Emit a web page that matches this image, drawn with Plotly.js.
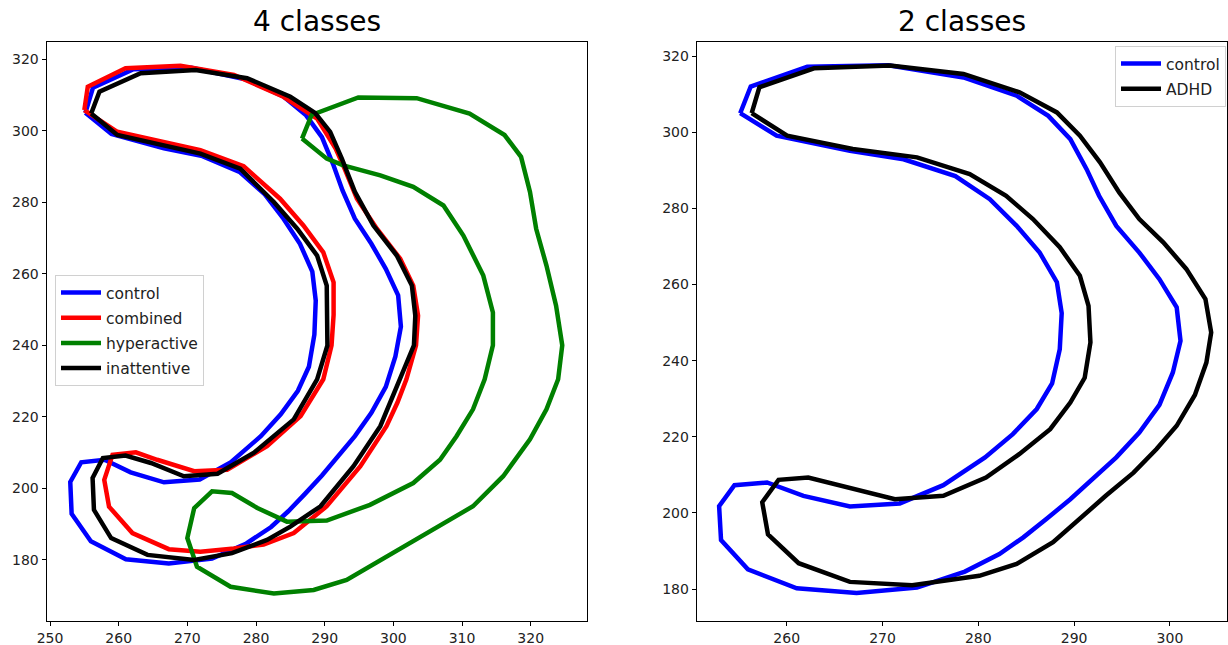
<!DOCTYPE html>
<html>
<head>
<meta charset="utf-8">
<script src="https://cdn.plot.ly/plotly-3.0.1.min.js"></script>
<style>html,body{margin:0;padding:0;background:#fff;}#chart{width:1228px;height:645px;}</style>
</head>
<body>
<div id="chart"></div>
<script>
// ---- data ----
const controlX = [255.15,256.25,262.15,270.6,278.45,284.0,287.3,289.6,291.3,292.6,294.4,296.8,298.9,300.7,301.1,300.3,298.9,296.8,294.4,292.0,289.6,287.1,284.7,282.2,278.6,273.6,267.3,261.05,255.95,253.15,252.95,254.55,257.95,261.75,266.6,271.8,276.35,280.7,283.6,286.1,287.7,288.5,288.7,288.2,286.4,284.0,281.2,277.6,272.2,266.6,258.95,255.15];
const controlY = [305.0,312.0,317.2,317.6,314.4,309.6,304.3,298.2,290.3,283.3,275.4,268.4,261.4,254.0,245.2,236.9,228.4,221.1,214.6,208.9,203.6,198.4,193.6,189.2,184.6,180.4,179.0,180.2,185.2,192.9,201.8,207.3,208.0,204.5,201.7,202.5,207.3,214.6,220.7,227.3,234.0,243.0,252.5,260.6,268.4,275.4,282.4,288.5,292.9,295.1,299.1,305.0];

const combinedX = [255.0,255.5,261.0,269.0,276.8,284.0,288.9,291.6,292.9,294.7,297.6,301.0,302.9,303.6,303.3,301.9,300.6,299.0,295.2,290.3,285.5,281.1,276.8,271.9,267.3,262.0,258.6,257.9,259.1,262.5,265.6,271.0,275.8,281.6,286.5,289.8,291.0,291.3,291.3,289.8,286.9,283.5,278.2,271.9,259.8,255.0];
const combinedY = [305.8,312.3,317.5,318.2,315.6,309.5,303.4,295.0,289.4,281.0,272.6,264.2,256.7,248.3,240.0,230.5,224.0,217.4,206.2,195.0,187.5,184.3,183.2,182.3,183.0,187.5,194.9,202.4,209.4,210.1,208.0,204.8,205.2,211.8,220.2,230.5,240.0,248.5,257.6,266.0,273.5,281.0,290.1,294.6,299.7,305.8];

const hyperX = [286.7,288.1,294.9,303.4,311.1,316.2,318.6,319.9,320.8,322.3,323.7,324.6,324.0,322.3,319.9,316.0,311.6,305.8,299.0,293.2,288.4,282.6,276.3,271.4,270.0,271.0,273.6,276.5,280.2,284.5,290.3,296.6,302.9,306.8,309.2,311.6,313.3,314.5,314.5,313.1,310.2,307.3,302.9,298.1,292.7,290.3,286.7];
const hyperY = [297.8,304.4,309.3,309.1,304.8,298.8,292.7,282.9,272.6,262.3,251.1,240.0,230.5,222.1,213.7,203.4,195.0,188.4,180.9,174.4,171.6,170.6,172.5,178.1,186.1,194.5,199.2,198.7,194.5,190.7,191.0,195.4,201.5,208.0,214.6,222.1,230.5,240.0,249.2,259.5,270.7,279.1,284.3,287.5,290.3,292.2,297.8];

const inattX = [256.0,257.2,263.2,271.2,278.7,285.0,288.6,290.8,292.5,294.4,297.1,300.5,302.7,303.2,303.0,301.0,298.1,294.2,289.4,285.0,281.6,276.5,271.0,264.2,258.9,256.4,256.2,257.7,261.0,264.7,269.5,274.4,279.7,285.5,288.9,290.4,290.3,288.9,286.0,282.6,277.7,271.9,266.6,259.8,256.0];
const inattY = [304.8,310.9,316.1,317.0,314.7,309.5,305.0,299.7,292.2,282.9,273.5,265.1,256.7,248.3,240.0,230.5,217.4,206.2,195.0,189.3,185.6,181.9,180.0,181.4,186.1,194.0,202.9,208.5,209.2,207.1,203.4,204.1,210.0,219.3,230.5,240.0,256.7,265.1,272.6,280.1,289.4,293.6,296.0,298.8,304.8];

const adhdX = [256.35,257.15,262.85,270.8,278.45,284.3,288.2,290.6,292.7,294.7,296.8,299.3,301.7,303.7,304.3,303.8,302.6,300.7,298.6,296.2,293.3,290.6,287.8,284.0,280.1,273.1,266.6,261.25,258.05,257.45,259.15,262.25,266.3,271.3,276.35,280.8,284.3,287.5,289.6,291.1,291.7,291.5,290.6,288.5,285.7,282.9,279.1,273.6,266.9,260.05,256.35];
const adhdY = [305.0,311.8,316.8,317.5,315.3,310.5,305.2,299.1,292.1,284.2,277.2,271.1,264.1,256.2,247.4,239.5,231.0,222.9,216.8,210.6,204.5,198.4,192.3,186.6,183.5,181.0,181.9,186.8,194.4,202.8,208.7,209.3,206.7,203.6,204.5,209.3,215.5,222.0,229.0,235.5,244.8,254.4,262.3,269.8,277.2,283.3,289.0,293.4,295.6,299.1,305.0];

const titles = ["4 classes", "2 classes"];
const leftNames = ["control", "combined", "hyperactive", "inattentive"];
const rightNames = ["control", "ADHD"];

// ---- styles ----
const FONT = "DejaVu Sans, Liberation Sans, sans-serif";
const LW = 4.5;
function tr(x, y, name, color, xa, ya, leg, grp) {
  return {x: x, y: y, name: name, type: 'scatter', mode: 'lines',
    line: {color: color, width: LW}, xaxis: xa, yaxis: ya, legend: leg, legendgroup: grp,
    hoverinfo: 'skip'};
}
const traces = [
  tr(controlX, controlY, leftNames[0], '#0000ff', 'x', 'y', 'legend', 'a'),
  tr(combinedX, combinedY, leftNames[1], '#ff0000', 'x', 'y', 'legend', 'b'),
  tr(hyperX, hyperY, leftNames[2], '#008000', 'x', 'y', 'legend', 'c'),
  tr(inattX, inattY, leftNames[3], '#000000', 'x', 'y', 'legend', 'd'),
  tr(controlX, controlY, rightNames[0], '#0000ff', 'x2', 'y2', 'legend2', 'e'),
  tr(adhdX, adhdY, rightNames[1], '#000000', 'x2', 'y2', 'legend2', 'f')
];

function ax(extra) {
  return Object.assign({
    showgrid: false, zeroline: false, showline: true, mirror: true,
    linecolor: '#000', linewidth: 1, ticks: 'outside', ticklen: 4,
    tickwidth: 1, tickcolor: '#000',
    tickfont: {family: FONT, size: 14, color: '#222'}
  }, extra);
}
const legendBase = {
  font: {family: FONT, size: 15.5, color: '#222'},
  bgcolor: 'rgba(255,255,255,0.85)', bordercolor: '#d0d0d0', borderwidth: 1,
  tracegroupgap: 2, traceorder: 'grouped', itemwidth: 40
};
const layout = {
  width: 1228, height: 645,
  margin: {l: 0, r: 0, t: 0, b: 0},
  paper_bgcolor: '#fff', plot_bgcolor: '#fff',
  showlegend: true,
  xaxis: ax({domain: [0.03787, 0.47777], range: [249.49, 328.16], dtick: 10, tick0: 250, anchor: 'y'}),
  yaxis: ax({domain: [0.03767, 0.93535], range: [163.0, 324.9], dtick: 20, tick0: 0, anchor: 'x'}),
  xaxis2: ax({domain: [0.56734, 0.99894], range: [250.61, 305.92], dtick: 10, tick0: 250, anchor: 'y2'}),
  yaxis2: ax({domain: [0.03767, 0.93488], range: [171.7, 323.7], dtick: 20, tick0: 0, anchor: 'x2'}),
  legend: Object.assign({x: 55/1228, y: 1 - 275/645, xanchor: 'left', yanchor: 'top'}, legendBase),
  legend2: Object.assign({x: 1226/1228, y: 1 - 46/645, xanchor: 'right', yanchor: 'top'}, legendBase),
  annotations: [
    {text: titles[0], xref: 'paper', yref: 'paper', x: 0.2578, y: 1 - 21.5/645, xanchor: 'center', yanchor: 'middle', showarrow: false, font: {family: FONT, size: 28, color: '#000'}},
    {text: titles[1], xref: 'paper', yref: 'paper', x: 0.7831, y: 1 - 21.5/645, xanchor: 'center', yanchor: 'middle', showarrow: false, font: {family: FONT, size: 28, color: '#000'}}
  ]
};
Plotly.newPlot('chart', traces, layout, {staticPlot: true, displayModeBar: false});
</script>
</body>
</html>
